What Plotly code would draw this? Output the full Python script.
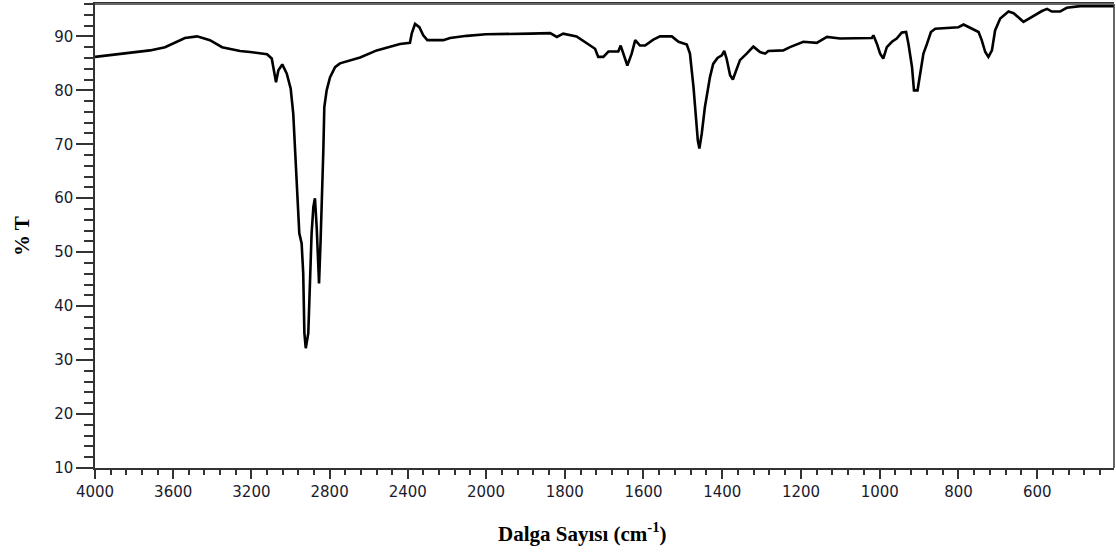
import plotly.graph_objects as go

# Wavenumber (cm-1) and %T
wavenumber = [4000, 3872, 3795, 3719, 3642, 3591, 3540, 3478, 3412, 3350, 3258, 3207, 3156, 3120,
              3096, 3084, 3074, 3062, 3042, 3019, 2999, 2986, 2973, 2963, 2955, 2943, 2935, 2929,
              2922, 2909, 2900, 2892, 2883, 2875, 2866, 2861, 2854, 2846, 2837, 2832, 2827, 2815,
              2798, 2772, 2747, 2696, 2644, 2559, 2491, 2440, 2389, 2380, 2363, 2341, 2321, 2300,
              2218, 2184, 2098, 2000,
              1888, 1837, 1820, 1804, 1770, 1744, 1723, 1715, 1702, 1689, 1664, 1658, 1651, 1641,
              1630, 1621, 1609, 1596, 1575, 1558, 1528, 1511, 1490, 1482, 1473, 1467, 1462, 1458,
              1452, 1444, 1431, 1423, 1412, 1401, 1395, 1389, 1380, 1373, 1365, 1355, 1338, 1321,
              1304, 1291, 1283, 1245, 1228, 1194, 1160, 1134, 1101, 1075, 1050, 1020, 1016, 1007,
              999, 991, 982, 969, 957, 944, 933, 927, 918, 913, 904, 897, 889, 880, 870, 859, 830,
              800, 787, 762, 749, 741, 732, 724, 715, 707, 694, 673, 660, 635, 614, 588, 575, 563,
              542, 525, 491, 457, 405]
transmittance = [86.2, 86.8, 87.1, 87.4, 88.0, 88.9, 89.7, 90.0, 89.3, 88.0, 87.3, 87.1, 86.8, 86.7,
                 85.9, 83.4, 81.5, 83.7, 84.8, 83.1, 80.3, 75.7, 67.0, 59.6, 53.5, 51.6, 46.1, 35.0,
                 32.2, 35.0, 47.3, 53.5, 58.4, 60.0, 54.6, 49.8, 44.2, 52.2, 60.9, 68.9, 76.9, 80.0,
                 82.4, 84.3, 85.0, 85.6, 86.1, 87.4, 88.1, 88.6, 88.8, 90.5, 92.3, 91.7, 90.2, 89.3,
                 89.3, 89.7, 90.1, 90.4,
                 90.5, 90.6, 89.9, 90.5, 90.0, 88.8, 87.7, 86.2, 86.2, 87.2, 87.2, 88.3, 86.8, 84.6,
                 86.8, 89.3, 88.3, 88.3, 89.4, 90.0, 90.0, 89.0, 88.5, 86.8, 80.6, 74.4, 70.7, 69.2,
                 72.0, 76.9, 82.5, 84.9, 86.0, 86.5, 87.3, 85.9, 82.8, 82.0, 83.7, 85.6, 86.8, 88.1,
                 87.1, 86.8, 87.3, 87.4, 88.0, 89.0, 88.8, 89.9, 89.6, 89.6, 89.7, 89.7, 90.2, 88.6,
                 86.8, 85.9, 88.0, 89.0, 89.6, 90.7, 90.8, 88.6, 84.3, 80.0, 80.0, 83.1, 86.8, 88.6,
                 90.8, 91.4, 91.6, 91.7, 92.2, 91.2, 90.8, 89.3, 87.1, 86.2, 87.4, 91.1, 93.3, 94.6,
                 94.3, 92.7, 93.6, 94.7, 95.1, 94.6, 94.6, 95.3, 95.6, 95.6, 95.6]

major_hi = [4000, 3600, 3200, 2800, 2400]
major_lo = [2000, 1800, 1600, 1400, 1200, 1000, 800, 600]
y_ticks = [10, 20, 30, 40, 50, 60, 70, 80, 90]

split = 391 / 1019

fig = go.Figure()
line = dict(color="black", width=2.6)
fig.add_trace(go.Scatter(x=wavenumber, y=transmittance, mode="lines", line=line,
                         xaxis="x", yaxis="y", showlegend=False, hoverinfo="x+y"))
fig.add_trace(go.Scatter(x=wavenumber, y=transmittance, mode="lines", line=line,
                         xaxis="x2", yaxis="y", showlegend=False, hoverinfo="x+y"))

tickfont = dict(family="DejaVu Sans, Tahoma, sans-serif", size=15, color="#1a1a2e")
axis_common = dict(showgrid=False, zeroline=False, showline=True, linecolor="#333", linewidth=1.5,
                   ticks="outside", tickwidth=1.5, tickcolor="#333", tickfont=tickfont,
                   automargin=False)

minor_hi = [v for v in range(3920, 2000, -80) if v not in major_hi]
minor_lo = [v for v in range(1960, 400, -40) if v not in major_lo]

fig.update_layout(
    width=1116, height=552,
    margin=dict(l=95, r=2, t=4, b=84),
    paper_bgcolor="white", plot_bgcolor="white",
    xaxis=dict(domain=[0, split], range=[4000, 2000], tickvals=major_hi,
               ticktext=[str(v) for v in major_hi], ticklen=9, mirror=True,
               minor=dict(tickvals=minor_hi, ticks="outside", ticklen=5, tickcolor="#333", tickwidth=1.5),
               anchor="y", **axis_common),
    xaxis2=dict(domain=[split, 1], range=[2000, 405], tickvals=major_lo,
                ticktext=[str(v) for v in major_lo], ticklen=9, mirror=True,
                minor=dict(tickvals=minor_lo, ticks="outside", ticklen=5, tickcolor="#333", tickwidth=1.5),
                anchor="y", **axis_common),
    yaxis=dict(range=[10, 96], tickvals=y_ticks, ticklen=17, anchor="x",
               minor=dict(dtick=2, tick0=0, ticks="outside", ticklen=9, tickcolor="#333", tickwidth=1.5),
               **axis_common),
    shapes=[
        dict(type="line", xref="paper", yref="paper", x0=1, x1=1, y0=0, y1=1,
             line=dict(color="#333", width=1.5)),
        dict(type="line", xref="paper", yref="paper", x0=0, x1=1, y0=1, y1=1,
             line=dict(color="#666", width=2)),
    ],
    annotations=[
        dict(text="<b>Dalga Sayısı (cm<sup>-1</sup>)</b>", xref="paper", yref="paper",
             x=0.478, y=-0.138, xanchor="center", yanchor="middle", showarrow=False,
             font=dict(family="Liberation Serif, Times New Roman, serif", size=21, color="black")),
        dict(text="<b>% T</b>", xref="paper", yref="paper", textangle=-90,
             x=-0.0716, y=0.50, xanchor="center", yanchor="middle", showarrow=False,
             font=dict(family="Liberation Serif, Times New Roman, serif", size=21, color="black")),
    ],
)

fig.write_html("out.html", config={"displayModeBar": False},
               post_script="document.body.style.margin='0';document.body.style.overflow='hidden';")
